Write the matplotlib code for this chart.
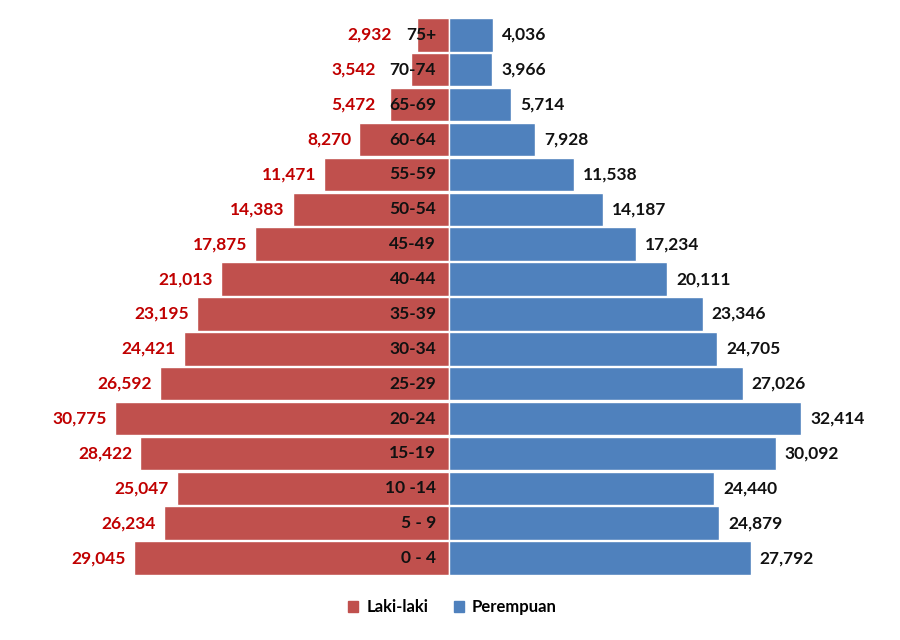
import matplotlib.pyplot as plt
from matplotlib.patches import Patch

ages = ['0 - 4', '5 - 9', '10 -14', '15-19', '20-24', '25-29', '30-34', '35-39',
        '40-44', '45-49', '50-54', '55-59', '60-64', '65-69', '70-74', '75+']
laki = [29045, 26234, 25047, 28422, 30775, 26592, 24421, 23195,
        21013, 17875, 14383, 11471, 8270, 5472, 3542, 2932]
perempuan = [27792, 24879, 24440, 30092, 32414, 27026, 24705, 23346,
             20111, 17234, 14187, 11538, 7928, 5714, 3966, 4036]

red = '#C0504D'
blue = '#4F81BD'
font = 'Lato'
fs = 12.5

fig = plt.figure(figsize=(9, 6.4), dpi=100)
ax = fig.add_axes([0, 0, 1, 1])
ax.set_xlim(-41350, 41530)
ax.set_ylim(-2.35, 16.0)
ax.axis('off')

y = list(range(len(ages)))
ax.barh(y, [-v for v in laki], height=0.96, color=red, edgecolor='white', linewidth=1)
ax.barh(y, perempuan, height=0.96, color=blue, edgecolor='white', linewidth=1)

fig.canvas.draw()
renderer = fig.canvas.get_renderer()
inv = ax.transData.inverted()

for i, age in enumerate(ages):
    t = ax.text(-1200, i, age, ha='right', va='center', fontsize=fs,
                fontweight='bold', family=font, color='#111111')
    # value of the men pushed left of the age label if the bar is short
    left_px = t.get_window_extent(renderer).x0
    bar_px = ax.transData.transform((-laki[i], i))[0]
    edge = min(left_px - 6, bar_px) - 8
    x_lab = inv.transform((edge, 0))[0]
    ax.text(x_lab, i, f'{laki[i]:,}', ha='right', va='center', fontsize=fs,
            fontweight='bold', family=font, color='#C00000')
    ax.text(perempuan[i] + 830, i, f'{perempuan[i]:,}', ha='left', va='center',
            fontsize=fs, fontweight='bold', family=font, color='#111111')

handles = [Patch(color=red, label='Laki-laki'), Patch(color=blue, label='Perempuan')]
fig.legend(handles=handles, loc='center', bbox_to_anchor=(0.503, 0.051), ncol=2,
           frameon=False, prop={'family': font, 'size': 12, 'weight': 'bold'},
           handlelength=0.6, handleheight=0.6, handletextpad=0.5, columnspacing=1.5)

fig.savefig('out.png', dpi=100, facecolor='white')
